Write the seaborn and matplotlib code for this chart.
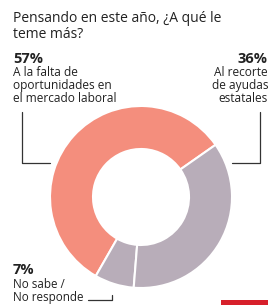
import matplotlib
matplotlib.use("Agg")
import matplotlib.pyplot as plt
import seaborn as sns

categories = ["A la falta de\noportunidades en\nel mercado laboral", "No sabe /\nNo responde", "Al recorte\nde ayudas\nestatales"]
values = [57, 7, 36]
pct_labels = ["57%", "7%", "36%"]
title = "Pensando en este año, ¿A qué le\nteme más?"

sns.set_theme(style="white")
plt.rcParams["font.family"] = ["Open Sans", "DejaVu Sans"]
colors = ["#F48E7D", "#B8ADB9", "#B8ADB9"]

W, H = 280, 305
fig = plt.figure(figsize=(W / 100, H / 100), dpi=100)
fig.patch.set_facecolor("white")
ax = fig.add_axes([0, 0, 1, 1])

def Y(y):
    return H - y

ax.pie(values, colors=colors, startangle=35, counterclock=True,
       center=(141, Y(197)), radius=91,
       wedgeprops=dict(width=43, edgecolor="white", linewidth=1.5))
ax.set_xlim(0, W)
ax.set_ylim(0, H)
ax.set_aspect("auto")
ax.axis("off")

txt = "#222222"

def lines(x, y0, step, text, size, ha="left", weight="normal"):
    for i, ln in enumerate(text.split("\n")):
        ax.text(x, Y(y0 + i * step), ln, fontsize=size, color=txt,
                va="baseline", ha=ha, fontweight=weight)

lines(13, 21.5, 16, title, 10)
# 57%
lines(13, 63, 0, pct_labels[0], 10.5, weight="bold")
lines(13, 76.5, 13, categories[0], 8.6)
# 36%
lines(268, 63, 0, pct_labels[2], 10.5, ha="right", weight="bold")
lines(268, 76.5, 13, categories[2], 8.6, ha="right")
# 7%
lines(13, 274, 0, pct_labels[1], 10.5, weight="bold")
lines(13, 288, 13.5, categories[1], 8.4)

lc = "#333333"
ax.plot([22, 22, 50], [Y(112), Y(163), Y(163)], color=lc, lw=0.9)
ax.plot([260, 260, 232], [Y(112), Y(163), Y(163)], color=lc, lw=0.9)
ax.plot([88, 112, 112], [Y(300), Y(300), Y(295)], color=lc, lw=0.9)

ax.add_patch(plt.Rectangle((221, Y(305)), 47, 5, color="#D7202B", lw=0))

fig.savefig("out.png", dpi=100)
